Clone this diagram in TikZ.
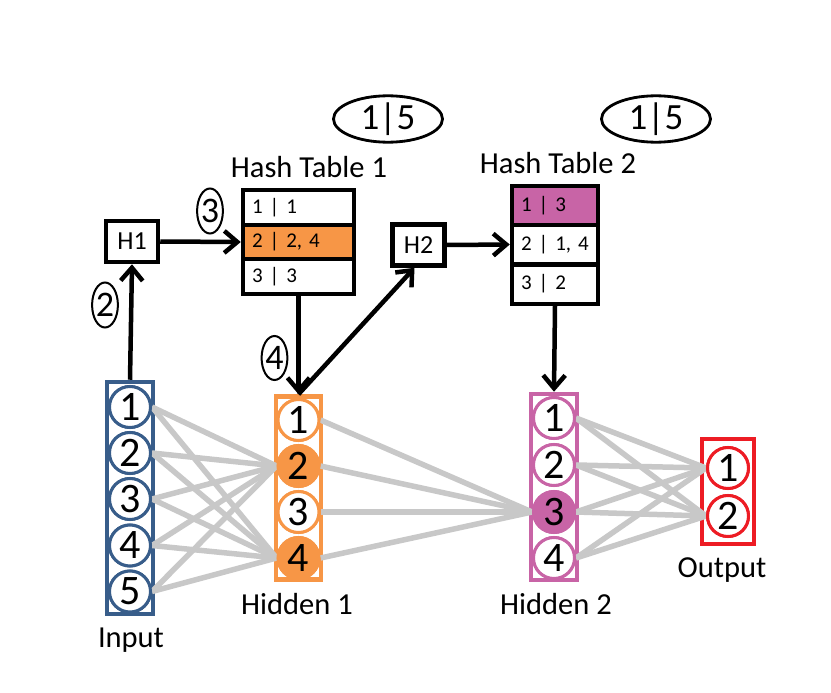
\documentclass[tikz,border=0pt]{standalone}
\usepackage{fontspec}
\setmainfont{Carlito}
\usetikzlibrary{arrows.meta,calc,shapes.geometric}
\definecolor{inblue}{HTML}{385D8A}
\definecolor{horange}{HTML}{F79646}
\definecolor{hmag}{HTML}{C864A6}
\definecolor{outred}{HTML}{ED1C24}
\definecolor{edgegray}{HTML}{C8C8C8}
\tikzset{
  layerbox/.style={draw=#1, line width=4.5pt, fill=white, inner sep=0pt},
  neuron/.style={circle, draw=#1, line width=3pt, fill=white, minimum size=41pt, inner sep=0pt, font=\fontsize{42}{42}\selectfont},
  conn/.style={draw=edgegray, line width=5.5pt},
  arr/.style={line width=4.5pt, -{Straight Barb[length=13pt,width=22pt]}},
  hashfn/.style={draw, line width=4.5pt, fill=white, minimum width=52pt, minimum height=41pt, inner sep=0pt, font=\fontsize{26}{26}\selectfont},
  htrow/.style={draw, line width=4.5pt, inner xsep=9pt, inner ysep=0pt, align=left, font=\fontsize{21}{21}\selectfont},
  lbl/.style={font=\fontsize{30.5}{30.5}\selectfont, inner sep=0pt},
  steptag/.style={ellipse, draw, line width=2pt, inner sep=0pt, font=\fontsize{36}{36}\selectfont},
  counttag/.style={ellipse, draw, line width=2.8pt, inner sep=0pt, minimum width=109pt, minimum height=44pt, font=\fontsize{37}{37}\selectfont}
}
\begin{document}
\begin{tikzpicture}[x=1pt,y=-1pt]
\useasboundingbox (0,0) rectangle (831,693);

% layer boxes
\node[layerbox=inblue, minimum width=46pt, minimum height=232pt] (inbox) at (130,498) {};
\node[layerbox=horange, minimum width=45pt, minimum height=183pt] (hobox) at (298.5,488) {};
\node[layerbox=hmag, minimum width=46pt, minimum height=186pt] (hmbox) at (554,487) {};
\node[layerbox=outred, minimum width=52pt, minimum height=105pt] (outbox) at (728,491.5) {};

% neurons
\path
  node[neuron=inblue] (i1) at (130,407) {1}
  node[neuron=inblue] (i2) at (130,453) {2}
  node[neuron=inblue] (i3) at (130,499) {3}
  node[neuron=inblue] (i4) at (130,545.5) {4}
  node[neuron=inblue] (i5) at (130,591.5) {5}
  node[neuron=horange] (a1) at (298.5,420) {1}
  node[neuron=horange, fill=horange] (a2) at (298.5,466) {2}
  node[neuron=horange] (a3) at (298.5,512) {3}
  node[neuron=horange, fill=horange] (a4) at (298.5,558) {4}
  node[neuron=hmag] (b1) at (554,418) {1}
  node[neuron=hmag] (b2) at (554,465) {2}
  node[neuron=hmag, fill=hmag] (b3) at (554,512) {3}
  node[neuron=hmag] (b4) at (554,558) {4}
  node[neuron=outred] (o1) at (728,468) {1}
  node[neuron=outred] (o2) at (728,516) {2};

% edges
\foreach \s in {i1,i2,i3,i4,i5}{
  \foreach \t in {a2,a4}{
    \draw[conn] (\s.east) -- (\t.west);
  }
}
\foreach \s in {a1,a2,a3,a4}{
  \draw[conn] (\s.east) -- (b3.west);
}
\foreach \s in {b1,b2,b3,b4}{
  \foreach \t in {o1,o2}{
    \draw[conn] (\s.east) -- (\t.west);
  }
}
% neurons again, on top of the edges
\path
  node[neuron=inblue] at (i1) {1}
  node[neuron=inblue] at (i2) {2}
  node[neuron=inblue] at (i3) {3}
  node[neuron=inblue] at (i4) {4}
  node[neuron=inblue] at (i5) {5}
  node[neuron=horange] at (a1) {1}
  node[neuron=horange, fill=horange] at (a2) {2}
  node[neuron=horange] at (a3) {3}
  node[neuron=horange, fill=horange] at (a4) {4}
  node[neuron=hmag] at (b1) {1}
  node[neuron=hmag] at (b2) {2}
  node[neuron=hmag, fill=hmag] at (b3) {3}
  node[neuron=hmag] at (b4) {4}
  node[neuron=outred] at (o1) {1}
  node[neuron=outred] at (o2) {2};

% layer labels
\node[lbl] (linput) at (131,640) {Input};
\node[lbl] (lh1) at (297,604) {Hidden 1};
\node[lbl] (lh2) at (556,604) {Hidden 2};
\node[lbl] (lout) at (722,570) {Output};

% hash functions
\node[hashfn] (hA) at (132,241.5) {H1};
\node[hashfn] (hB) at (418.5,245) {H2};

% hash table 1
\node[htrow, minimum width=111pt, minimum height=35pt, text width=93pt] (t1r1) at (298.5,207.5) {1 | 1};
\node[htrow, fill=horange, minimum width=111pt, minimum height=34pt, text width=93pt] (t1r2) at (298.5,242) {2 | 2, 4};
\node[htrow, minimum width=111pt, minimum height=35pt, text width=93pt] (t1r3) at (298.5,276.5) {3 | 3};
\node[lbl] (lt1) at (309,167) {Hash Table 1};

% hash table 2
\node[htrow, fill=hmag, minimum width=86pt, minimum height=39pt, text width=68pt] (t2r1) at (555,205.5) {1 | 3};
\node[htrow, minimum width=86pt, minimum height=39.5pt, text width=68pt] (t2r2) at (555,244.5) {2 | 1, 4};
\node[htrow, minimum width=86pt, minimum height=39.5pt, text width=68pt] (t2r3) at (555,284) {3 | 2};
\node[lbl] (lt2) at (558,163) {Hash Table 2};

% count tags
\node[counttag] (c1) at (388,119) {1|5};
\node[counttag] (c2) at (656,119) {1|5};

% step tags
\node[steptag, minimum width=23pt, minimum height=45pt] (s2) at (105,305) {2};
\node[steptag, minimum width=24pt, minimum height=45pt] (s3) at (210,211) {3};
\node[steptag, minimum width=23pt, minimum height=44pt] (s4) at (274.5,358) {4};

% arrows
\draw[arr] (inbox.north) -- (hA.south);
\draw[arr] (hA.east) -- (t1r2.west);
\draw[arr] (t1r3.south) -- (hobox.north);
\draw[arr] (hobox.north) -- ($(hB.south)+(-4,0)$);
\draw[arr] (hB.east) -- (t2r2.west);
\draw[arr] (t2r3.south) -- (hmbox.north);
\end{tikzpicture}
\end{document}
